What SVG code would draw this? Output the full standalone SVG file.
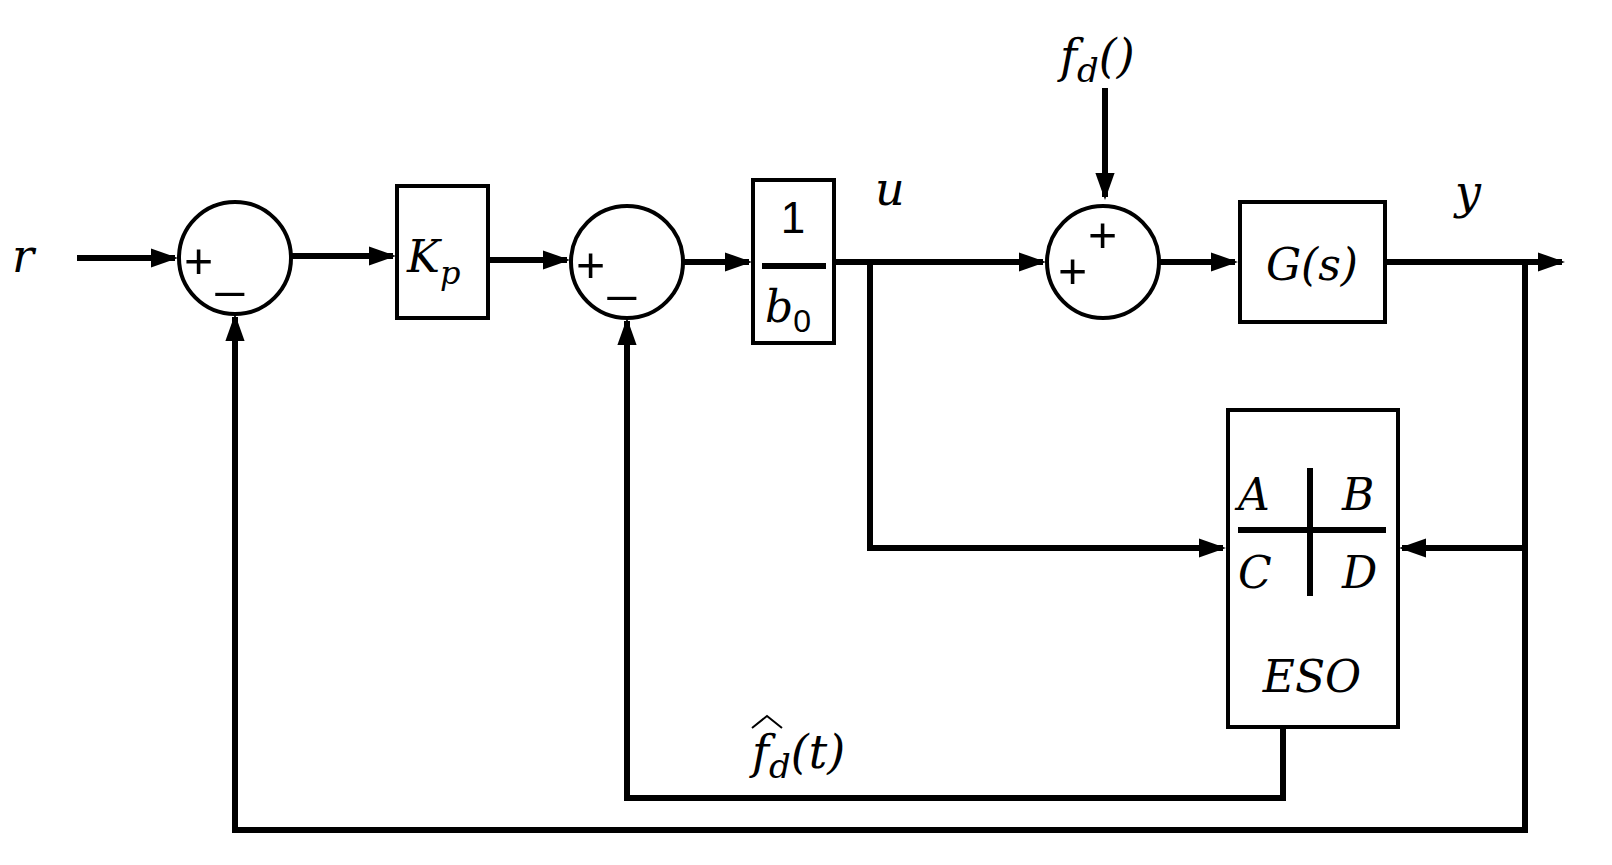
<svg xmlns="http://www.w3.org/2000/svg" width="1612" height="865" viewBox="0 0 1612 865">
<style>
.l{fill:none;stroke:#000;stroke-width:6}
.b{fill:#fff;stroke:#000;stroke-width:4}
text{font-family:"DejaVu Serif","Liberation Serif",serif;font-style:italic;fill:#000}
.s{font-family:"Liberation Sans",sans-serif;font-style:normal}
</style>
<defs><marker id="a" markerWidth="4.5" markerHeight="3.2" refX="4" refY="1.6" orient="auto" markerUnits="strokeWidth"><path d="M0,0L4.5,1.6L0,3.2z"/></marker></defs>
<rect width="1612" height="865" fill="#fff"/>
<g id="connectors">
<path class="l" d="M77,258H175" marker-end="url(#a)"/>
<path class="l" d="M291,256H393" marker-end="url(#a)"/>
<path class="l" d="M488,260H567" marker-end="url(#a)"/>
<path class="l" d="M683,262H749" marker-end="url(#a)"/>
<path class="l" d="M834,262H1043" marker-end="url(#a)"/>
<path class="l" d="M1105,88V197" marker-end="url(#a)"/>
<path class="l" d="M1160,262H1235" marker-end="url(#a)"/>
<path class="l" d="M1385,262H1562" marker-end="url(#a)"/>
<path class="l" d="M870,262V548H1223" marker-end="url(#a)"/>
<path class="l" d="M1525,262V548H1402" marker-end="url(#a)"/>
<path class="l" d="M1283,727V798H627V321" marker-end="url(#a)"/>
<path class="l" d="M1525,548V830H235V317" marker-end="url(#a)"/>
</g>
<g id="sum1"><circle class="b" cx="235" cy="258" r="56" stroke-width="5"/><text class="s" x="184" y="278" font-size="50">+</text><text class="s" x="216" y="286" font-size="50">_</text></g>
<g id="kp"><rect class="b" x="397" y="186" width="91" height="132"/><text x="407" y="272" font-size="44">K<tspan font-size="32" dy="12">p</tspan></text></g>
<g id="sum2"><circle class="b" cx="627" cy="262" r="56" stroke-width="5"/><text class="s" x="576" y="282" font-size="50">+</text><text class="s" x="608" y="290" font-size="50">_</text></g>
<g id="gain"><rect class="b" x="753" y="180" width="81" height="163"/><text class="s" x="793" y="233" font-size="44" text-anchor="middle">1</text><path class="l" d="M762,266H826" stroke-width="3"/><text x="765" y="322" font-size="44">b<tspan class="s" font-size="32" dy="10">0</tspan></text></g>
<g id="sum3"><circle class="b" cx="1103" cy="262" r="56" stroke-width="5"/><text class="s" x="1058" y="288" font-size="50">+</text><text class="s" x="1088" y="252" font-size="50">+</text></g>
<g id="plant"><rect class="b" x="1240" y="202" width="145" height="120"/><text x="1312" y="280" font-size="44" text-anchor="middle">G(s)</text></g>
<g id="eso"><rect class="b" x="1228" y="410" width="170" height="317"/><path class="l" d="M1238,530H1386M1310,468V596" stroke-width="4"/><text x="1238" y="510" font-size="44">A</text><text x="1342" y="510" font-size="44">B</text><text x="1238" y="588" font-size="44">C</text><text x="1342" y="588" font-size="44">D</text><text x="1312" y="692" font-size="44" text-anchor="middle">ESO</text></g>
<g id="labels">
<text x="12" y="272" font-size="46">r</text>
<text x="875" y="205" font-size="46">u</text>
<text x="1455" y="208" font-size="46">y</text>
<text x="1060" y="72" font-size="46">f<tspan font-size="34" dy="10">d</tspan><tspan dy="-10">()</tspan></text>
<text x="752" y="768" font-size="46">f<tspan font-size="34" dy="10">d</tspan><tspan dy="-10">(t)</tspan></text>
<path d="M752,728L767,716L782,728" fill="none" stroke="#000" stroke-width="2"/>
</g>
</svg>
